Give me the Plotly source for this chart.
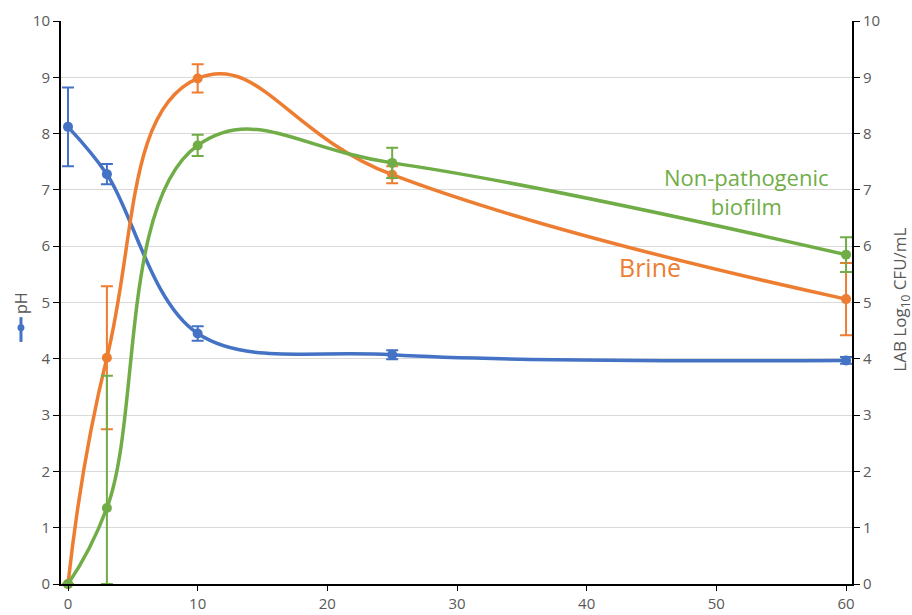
import plotly.graph_objects as go

days = [0, 3, 10, 25, 60]
ph = [8.12, 7.28, 4.45, 4.07, 3.97]
ph_err = [0.70, 0.18, 0.13, 0.08, 0.06]
brine = [0.0, 4.02, 8.98, 7.27, 5.06]
brine_err = [0.0, 1.27, 0.25, 0.15, 0.64]
biofilm = [0.0, 1.35, 7.79, 7.48, 5.85]
biofilm_err_up = [0.0, 2.35, 0.19, 0.27, 0.31]
biofilm_err_dn = [0.0, 1.35, 0.19, 0.27, 0.31]
y_ticks = list(range(0, 11))
x_ticks = [0, 10, 20, 30, 40, 50, 60]

BLUE = "#4472C4"
ORANGE = "#ED7D31"
GREEN = "#70AD47"
FONT = "Open Sans"

fig = go.Figure()

def add(y, color, err_up, err_dn, axis, smooth):
    fig.add_trace(go.Scatter(
        x=days, y=y, mode="lines+markers", yaxis=axis,
        line=dict(color=color, width=3.5, shape="spline", smoothing=smooth),
        marker=dict(color=color, size=10),
        error_y=dict(type="data", array=err_up, arrayminus=err_dn, symmetric=False,
                     color=color, thickness=2, width=6),
        cliponaxis=False, showlegend=False,
    ))

add(ph, BLUE, ph_err, ph_err, "y", 1.0)
add(brine, ORANGE, brine_err, brine_err, "y2", 1.3)
add(biofilm, GREEN, biofilm_err_up, biofilm_err_dn, "y2", 1.2)

tickfont = dict(family=FONT, size=15, color="#595959")

fig.update_layout(
    width=912, height=615,
    margin=dict(l=61, r=60, t=21, b=31),
    paper_bgcolor="white", plot_bgcolor="white",
    xaxis=dict(range=[-0.54, 60.46], tickvals=x_ticks, showgrid=False, zeroline=False,
               showline=True, linecolor="black", linewidth=2, ticks="outside",
               ticklen=5, tickcolor="black", tickfont=tickfont, automargin=False),
    yaxis=dict(range=[0, 10], tickvals=y_ticks, showgrid=True, gridcolor="#D9D9D9",
               gridwidth=1, zeroline=False, showline=True, linecolor="black", linewidth=2,
               ticks="outside", ticklen=6, tickcolor="black", tickfont=tickfont,
               automargin=False),
    yaxis2=dict(range=[0, 10], tickvals=y_ticks, overlaying="y", side="right",
                showgrid=False, zeroline=False, showline=True, linecolor="black",
                linewidth=2, ticks="outside", ticklen=6, tickcolor="black",
                tickfont=tickfont, automargin=False),
)

# axis titles
fig.add_annotation(text="pH", xref="paper", yref="paper", x=-0.0506, y=0.499,
                   xanchor="center", yanchor="middle",
                   textangle=-90, showarrow=False,
                   font=dict(family=FONT, size=16, color="#595959"))
fig.add_annotation(text="LAB Log<sub>10</sub> CFU/mL", xref="paper", yref="paper",
                   x=1.062, y=0.505, xanchor="center", yanchor="middle",
                   textangle=-90, showarrow=False,
                   font=dict(family=FONT, size=17, color="#595959"))

# legend key for pH
fig.add_shape(type="line", xref="paper", yref="paper", x0=-0.0506, x1=-0.0506,
              y0=0.43, y1=0.474, line=dict(color=BLUE, width=3))
fig.add_shape(type="circle", xref="paper", yref="paper",
              x0=-0.0506 - 0.0044, x1=-0.0506 + 0.0044,
              y0=0.455 - 0.0062, y1=0.455 + 0.0062,
              fillcolor=BLUE, line=dict(color=BLUE, width=0))

# series labels
fig.add_annotation(text="Non-pathogenic<br>biofilm", x=52.35, y=6.97, yref="y2",
                   showarrow=False, align="center",
                   font=dict(family=FONT, size=22, color=GREEN))
fig.add_annotation(text="Brine", x=44.9, y=5.63, yref="y2", showarrow=False,
                   font=dict(family=FONT, size=25, color=ORANGE))

fig.write_html("out.html")
